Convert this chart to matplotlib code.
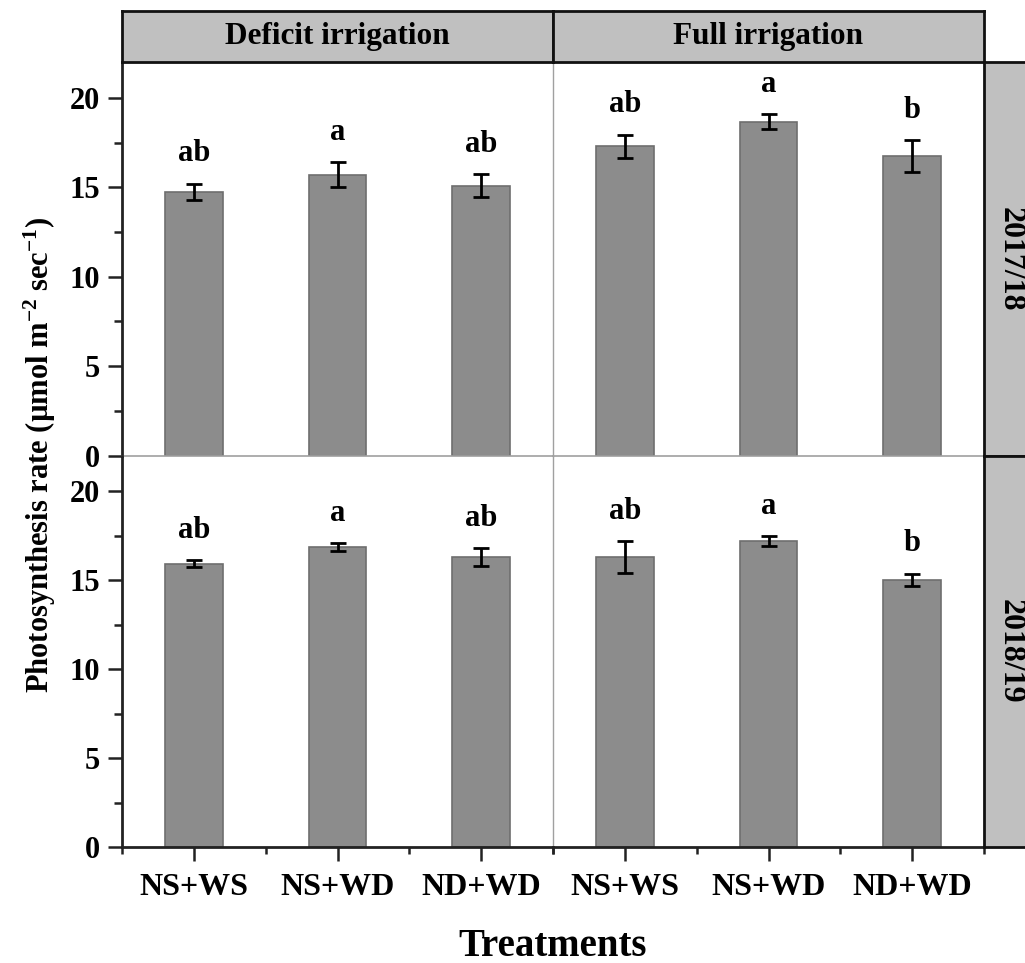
import matplotlib
matplotlib.use("Agg")
import matplotlib.pyplot as plt
import numpy as np

# Treatments and irrigation regimes
treatments = ["NS+WS", "NS+WD", "ND+WD"]
regimes = ["Deficit irrigation", "Full irrigation"]
seasons = ["2017/18", "2018/19"]

# Photosynthesis rate means and standard errors (µmol m-2 sec-1)
mean_1718_deficit = [14.75, 15.70, 15.08]
err_1718_deficit = [0.45, 0.70, 0.65]
mean_1718_full = [17.28, 18.66, 16.76]
err_1718_full = [0.65, 0.43, 0.88]
mean_1819_deficit = [15.93, 16.85, 16.30]
err_1819_deficit = [0.20, 0.22, 0.50]
mean_1819_full = [16.30, 17.22, 15.01]
err_1819_full = [0.88, 0.28, 0.36]

# Significance letters
letters_1718_deficit = ["ab", "a", "ab"]
letters_1718_full = ["ab", "a", "b"]
letters_1819_deficit = ["ab", "a", "ab"]
letters_1819_full = ["ab", "a", "b"]

panels = {
    (0, 0): (mean_1718_deficit, err_1718_deficit, letters_1718_deficit),
    (0, 1): (mean_1718_full, err_1718_full, letters_1718_full),
    (1, 0): (mean_1819_deficit, err_1819_deficit, letters_1819_deficit),
    (1, 1): (mean_1819_full, err_1819_full, letters_1819_full),
}

plt.rcParams["font.family"] = ["Liberation Serif", "DejaVu Serif"]
plt.rcParams["font.weight"] = "bold"
plt.rcParams["mathtext.fontset"] = "custom"
plt.rcParams["mathtext.rm"] = "Liberation Serif:bold"
plt.rcParams["mathtext.bf"] = "Liberation Serif:bold"
plt.rcParams["mathtext.it"] = "Liberation Serif:bold"

W, H = 1025, 963
fig = plt.figure(figsize=(W / 100, H / 100), dpi=100)


def px_axes(x0, y0, x1, y1, **kw):
    """Add axes from pixel box (top-left origin)."""
    return fig.add_axes([x0 / W, 1 - y1 / H, (x1 - x0) / W, (y1 - y0) / H], **kw)


col_x = [(122, 553), (553, 984)]
row_y = [(62, 455.7), (455.7, 847)]

bar_color = "#8c8c8c"
bar_edge = "#6e6e6e"
divider = "#a0a0a0"
spine_w = 2.0

x = np.arange(len(treatments)) + 0.5

for (r, c), (means, errs, letters) in panels.items():
    ax = px_axes(col_x[c][0], row_y[r][0], col_x[c][1], row_y[r][1])
    ax.bar(x, means, width=0.4, color=bar_color, edgecolor=bar_edge,
           linewidth=1.2, zorder=2)
    ax.errorbar(x, means, yerr=errs, fmt="none", ecolor="black",
                elinewidth=2.0, capsize=6, capthick=2.0, zorder=3)
    for xi, m, e, lab in zip(x, means, errs, letters):
        ax.text(xi, m + e + 1.25, lab, ha="center", va="baseline",
                fontsize=22, fontweight="bold")
    ax.set_xlim(0, 3)
    ax.set_ylim(0, 22)

    # spines
    for s in ax.spines.values():
        s.set_visible(False)
    if c == 0:
        ax.spines["left"].set_visible(True)
        ax.spines["left"].set_linewidth(spine_w)
        ax.spines["left"].set_color("#222222")
        ax.spines["right"].set_visible(True)
        ax.spines["right"].set_linewidth(1.0)
        ax.spines["right"].set_color(divider)
    if r == 0:
        ax.spines["bottom"].set_visible(True)
        ax.spines["bottom"].set_linewidth(1.2)
        ax.spines["bottom"].set_color(divider)
    else:
        ax.spines["bottom"].set_visible(True)
        ax.spines["bottom"].set_linewidth(spine_w)
        ax.spines["bottom"].set_color("#222222")

    # y ticks
    if c == 0:
        ax.set_yticks([0, 5, 10, 15, 20])
        ax.set_yticks(np.arange(2.5, 22, 5), minor=True)
        ax.tick_params(axis="y", which="major", direction="out", length=10,
                       width=1.8, labelsize=22, pad=6, color="#222222")
        ax.tick_params(axis="y", which="minor", direction="out", length=6,
                       width=1.8, color="#222222")
        for lbl in ax.get_yticklabels():
            lbl.set_fontweight("bold")
    else:
        ax.set_yticks([])
        ax.set_yticks([], minor=True)

    # x ticks
    if r == 1:
        ax.set_xticks(x)
        ax.set_xticklabels(treatments, fontsize=23, fontweight="bold")
        ax.set_xticks([0, 1, 2, 3], minor=True)
        ax.tick_params(axis="x", which="major", direction="out", length=10,
                       width=1.8, pad=9, color="#222222")
        ax.tick_params(axis="x", which="minor", direction="out", length=5,
                       width=1.8, color="#222222")
    else:
        ax.set_xticks([])
        ax.set_xticks([], minor=True)
    ax.set_facecolor("none")

# top strips
for c, name in enumerate(regimes):
    sax = px_axes(col_x[c][0], 11, col_x[c][1], 62)
    sax.set_facecolor("#c0c0c0")
    sax.set_xticks([])
    sax.set_yticks([])
    for s in sax.spines.values():
        s.set_linewidth(spine_w)
        s.set_color("#111111")
    sax.text(0.5, 0.5, name, ha="center", va="center", fontsize=22.5,
             fontweight="bold", transform=sax.transAxes)

# right strips
for r, name in enumerate(seasons):
    sax = px_axes(984, row_y[r][0], 1040, row_y[r][1])
    sax.set_facecolor("#c0c0c0")
    sax.set_xticks([])
    sax.set_yticks([])
    for s in sax.spines.values():
        s.set_linewidth(spine_w)
        s.set_color("#111111")
    sax.text((1010 - 984) / 56, 0.5, name, ha="center", va="center",
             rotation=270, fontsize=23, fontweight="bold",
             transform=sax.transAxes)

fig.text(40 / W, 1 - 455 / H,
         r"Photosynthesis rate (µmol m$^{\mathbf{-2}}$ sec$^{\mathbf{-1}}$)",
         rotation=90, ha="center", va="center", fontsize=22, fontweight="bold")
fig.text(553 / W, 1 - 946 / H, "Treatments", ha="center", va="center",
         fontsize=28, fontweight="bold")

fig.savefig("out.png", dpi=100, facecolor="white")
